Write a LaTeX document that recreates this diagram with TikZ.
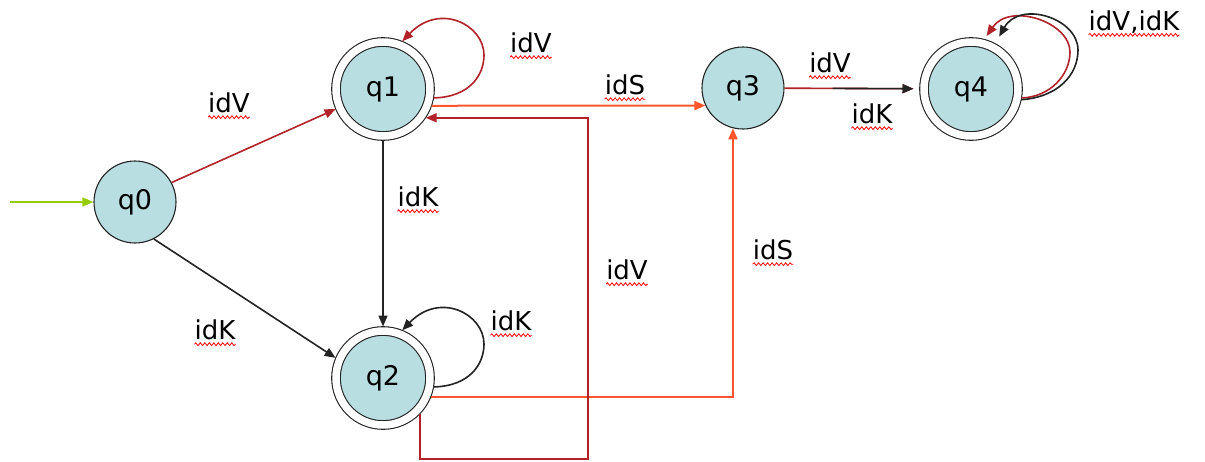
\documentclass[tikz,border=0pt]{standalone}
\usepackage{fontspec}
\setmainfont{DejaVu Sans}
\usetikzlibrary{arrows.meta,decorations.pathmorphing}
\definecolor{dred}{RGB}{178,34,40}
\definecolor{ored}{RGB}{255,85,45}
\definecolor{grn}{RGB}{150,205,0}
\definecolor{stfill}{RGB}{185,222,226}
\definecolor{lin}{RGB}{35,35,35}
\tikzset{
  state/.style={circle,draw=lin,fill=stfill,line width=1.1pt,minimum size=82pt,inner sep=0pt,font=\fontsize{27}{30}\selectfont},
  accst/.style={circle,draw=lin,fill=stfill,line width=1.1pt,double=white,double distance=7.5pt,minimum size=94pt,inner sep=0pt,outer sep=4.5pt,font=\fontsize{27}{30}\selectfont},
  edge/.style={line width=1.6pt,-{Triangle[length=11pt,width=9pt]}},
  lbl/.style={inner sep=0pt,font=\fontsize{26}{30}\selectfont},
  squig/.style={draw=red,line width=0.8pt,decorate,decoration={snake,amplitude=1.4pt,segment length=4.5pt}}
}
\begin{document}
\begin{tikzpicture}[x=1pt,y=-1pt]
\useasboundingbox (0,0) rectangle (1205,461);
% states
\node[state] (q0) at (135,202) {q0};
\node[accst] (q1) at (383,89) {q1};
\node[accst] (q2) at (383,378) {q2};
\node[state] (q3) at (743,88) {q3};
\node[accst] (q4) at (971,89) {q4};
\coordinate (start) at (10,202);
\coordinate (c1) at (588,459);
% start arrow
\draw[grn,edge] (start) -- (q0);
% q0 edges
\draw[dred,edge] (q0.28) -- (q1.203);
\draw[lin,edge] (q0.-63) -- (q2.157);
% q1 edges
\draw[lin,edge] (q1) -- (q2);
\draw[dred,edge] (q1.-10) .. controls (470,97) and (484,75) .. (484,55) .. controls (484,25) and (440,2) .. (q1.68);
\draw[ored,edge,line width=2pt] (q1.-19) -- (q3.205);
% q2 edges
\draw[lin,edge] (q2.-10) .. controls (470,386) and (484,364) .. (484,344) .. controls (484,314) and (440,291) .. (q2.68);
\draw[ored,edge,line width=2pt] (q2.-22) -| (q3.256);
\draw[dred,edge,line width=1.8pt] (q2.-44) |- (c1) |- (q1.-34);
% q3 to q4
\draw[dred,edge,shorten >=6pt] (q3) -- (q4);
\draw[lin,edge,shorten <=48pt,shorten >=6pt] (q3) -- (q4);
% q4 loops
\draw[dred,edge,shorten >=4pt] (q4.-10) .. controls (1050,97) and (1070,75) .. (1070,52) .. controls (1070,22) and (1010,2) .. (q4.75);
\draw[lin,edge,shorten >=8pt] (q4.-12) .. controls (1058,97) and (1078,75) .. (1078,50) .. controls (1078,18) and (1020,0) .. (q4.62);
% labels
\node[lbl] (l1) at (229,103) {idV};
\node[lbl] (l2) at (215,330) {idK};
\node[lbl] (l3) at (531,43) {idV};
\node[lbl] (l4) at (625,85) {idS};
\node[lbl] (l5) at (418,197) {idK};
\node[lbl] (l6) at (627,270) {idV};
\node[lbl] (l7) at (773,250) {idS};
\node[lbl] (l8) at (511,321) {idK};
\node[lbl] (l9) at (830,63) {idV};
\node[lbl] (l10) at (872,114) {idK};
\node[lbl] (l11) at (1134,22) {idV,idK};
\foreach \n in {l1,l2,l3,l4,l5,l6,l7,l8,l9,l10,l11}
  \draw[squig] ([yshift=-4.5pt]\n.base west) -- ([yshift=-4.5pt]\n.base east);
\end{tikzpicture}
\end{document}
